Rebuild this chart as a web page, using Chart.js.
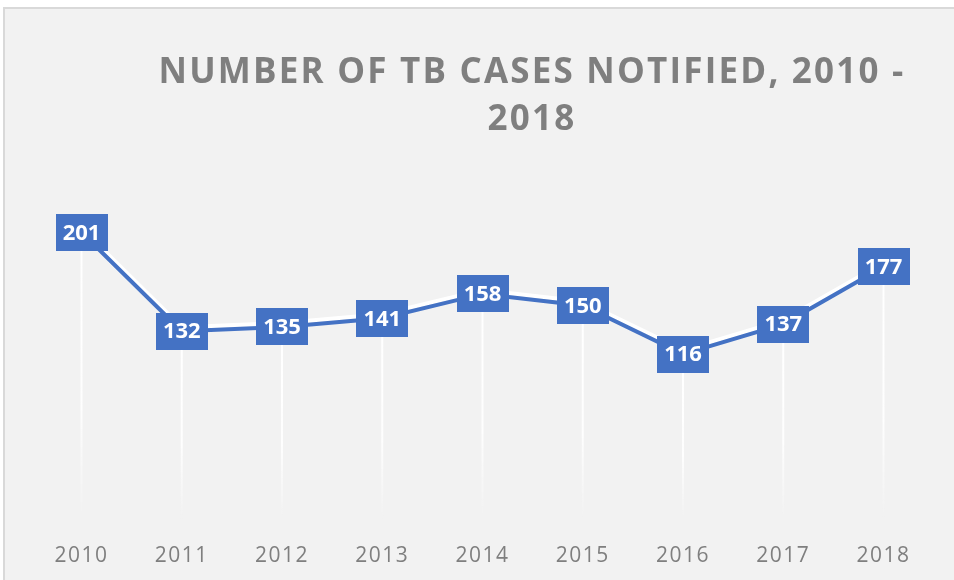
<!DOCTYPE html>
<html>
<head>
<meta charset="utf-8">
<script src="https://cdn.jsdelivr.net/npm/chart.js@4.4.1/dist/chart.umd.min.js"></script>
<style>
  html, body { margin: 0; padding: 0; background: #ffffff; }
  #wrap { position: relative; width: 954px; height: 580px; overflow: hidden; }
  #panel {
    position: absolute; left: 3px; top: 7px; width: 980px; height: 600px;
    background: #f2f2f2; border-left: 2px solid #d9d9d9; border-top: 2px solid #d9d9d9;
  }
  #titulo {
    position: absolute; left: 132px; top: 46px; width: 800px;
    text-align: center; font: bold 35px "Open Sans", sans-serif;
    line-height: 47px; letter-spacing: 2.2px; color: #7f7f7f;
  }
  canvas { position: absolute; left: 0; top: 0; }
</style>
</head>
<body>
<div id="wrap">
  <div id="panel"></div>
  <canvas id="grafico" width="954" height="580"></canvas>
  <div id="titulo">NUMBER OF TB CASES NOTIFIED, 2010 -<br>2018</div>
</div>
<script>
// Datos del gráfico
const anios = ['2010', '2011', '2012', '2013', '2014', '2015', '2016', '2017', '2018'];
const casos = [201, 132, 135, 141, 158, 150, 116, 137, 177];

const AZUL = '#4472c4';

// Espaciado de letras para las etiquetas del eje X
const espaciado = {
  id: 'espaciado',
  beforeDraw(chart) { chart.ctx.letterSpacing = '1.5px'; },
  beforeDatasetsDraw(chart) { chart.ctx.letterSpacing = '0px'; }
};

// Líneas blancas verticales desde cada punto hacia abajo
const lineasCaida = {
  id: 'lineasCaida',
  beforeDatasetsDraw(chart) {
    const ctx = chart.ctx;
    const meta = chart.getDatasetMeta(0);
    const fondo = chart.chartArea.bottom;
    meta.data.forEach(p => {
      const grad = ctx.createLinearGradient(0, p.y, 0, fondo);
      grad.addColorStop(0, 'rgba(255,255,255,1)');
      grad.addColorStop(0.6, 'rgba(255,255,255,0.9)');
      grad.addColorStop(1, 'rgba(255,255,255,0)');
      ctx.save();
      ctx.strokeStyle = grad;
      ctx.lineWidth = 2;
      ctx.beginPath();
      ctx.moveTo(p.x, p.y);
      ctx.lineTo(p.x, fondo);
      ctx.stroke();
      ctx.restore();
    });
  }
};

// Brillo blanco encima de la línea
const brillo = {
  id: 'brillo',
  beforeDatasetDraw(chart) {
    const ctx = chart.ctx;
    ctx.save();
    ctx.shadowColor = 'rgba(255,255,255,1)';
    ctx.shadowOffsetX = 0;
    ctx.shadowOffsetY = -4;
    ctx.shadowBlur = 0;
  },
  afterDatasetDraw(chart) {
    chart.ctx.restore();
  }
};

// Etiquetas de datos en cajas azules
const etiquetas = {
  id: 'etiquetas',
  afterDatasetsDraw(chart) {
    const ctx = chart.ctx;
    const meta = chart.getDatasetMeta(0);
    ctx.save();
    ctx.font = 'bold 22px "Open Sans", sans-serif';
    ctx.textAlign = 'center';
    ctx.textBaseline = 'middle';
    meta.data.forEach((p, i) => {
      const w = 52, h = 37;
      ctx.fillStyle = AZUL;
      ctx.fillRect(Math.round(p.x - w / 2), Math.round(p.y - h / 2), w, h);
      ctx.fillStyle = '#ffffff';
      ctx.fillText(String(casos[i]), p.x, p.y + 1);
    });
    ctx.restore();
  }
};

new Chart(document.getElementById('grafico'), {
  type: 'line',
  data: {
    labels: anios,
    datasets: [{
      data: casos,
      borderColor: AZUL,
      borderWidth: 4,
      pointRadius: 0,
      tension: 0
    }]
  },
  options: {
    responsive: false,
    animation: false,
    layout: { padding: { left: 81.5, right: 70.5, top: 162, bottom: 13 } },
    plugins: {
      legend: { display: false },
      title: { display: false },
      tooltip: { enabled: false }
    },
    scales: {
      x: {
        grid: { display: false },
        border: { display: false },
        ticks: {
          color: '#7f7f7f',
          font: { family: '"Open Sans", sans-serif', size: 21 },
          padding: 15,
          maxRotation: 0
        },
        afterFit(scale) { scale.height = 46.5; }
      },
      y: {
        display: false,
        min: 0,
        max: 250
      }
    }
  },
  plugins: [espaciado, lineasCaida, brillo, etiquetas]
});
</script>
</body>
</html>
